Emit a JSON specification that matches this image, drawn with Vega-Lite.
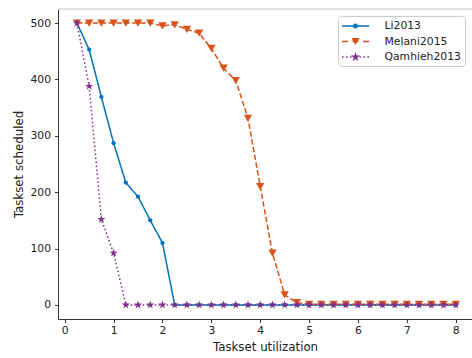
{
  "$schema": "https://vega.github.io/schema/vega-lite/v6.json",
  "width": 414,
  "height": 310,
  "autosize": "none",
  "padding": {"left": 58, "top": 9, "right": 0, "bottom": 39},
  "config": {
    "font": "DejaVu Sans",
    "view": {"stroke": null},
    "axis": {
      "grid": false,
      "tickSize": 3.5,
      "tickColor": "#333",
      "domainColor": "#333",
      "domainWidth": 1,
      "labelFontSize": 10.8,
      "labelColor": "#222",
      "titleFontSize": 11.8,
      "titleFontWeight": "normal",
      "titleColor": "#222",
      "labelFlush": false,
      "labelOverlap": false
    }
  },
  "layer": [
    {
      "data": {"values": [{}]},
      "mark": {"type": "rule", "color": "#c8c8c8", "strokeWidth": 1},
      "encoding": {"y": {"datum": 525}}
    },
    {
      "data": {"values": [
        {"u": 0.25, "Li2013": 500, "Melani2015": 500, "Qamhieh2013": 500},
        {"u": 0.5, "Li2013": 453, "Melani2015": 500, "Qamhieh2013": 388},
        {"u": 0.75, "Li2013": 369, "Melani2015": 500, "Qamhieh2013": 152},
        {"u": 1.0, "Li2013": 287, "Melani2015": 500, "Qamhieh2013": 92},
        {"u": 1.25, "Li2013": 217, "Melani2015": 500, "Qamhieh2013": 0},
        {"u": 1.5, "Li2013": 192, "Melani2015": 500, "Qamhieh2013": 0},
        {"u": 1.75, "Li2013": 150, "Melani2015": 500, "Qamhieh2013": 0},
        {"u": 2.0, "Li2013": 110, "Melani2015": 495, "Qamhieh2013": 0},
        {"u": 2.25, "Li2013": 0, "Melani2015": 497, "Qamhieh2013": 0},
        {"u": 2.5, "Li2013": 0, "Melani2015": 489, "Qamhieh2013": 0},
        {"u": 2.75, "Li2013": 0, "Melani2015": 482, "Qamhieh2013": 0},
        {"u": 3.0, "Li2013": 0, "Melani2015": 455, "Qamhieh2013": 0},
        {"u": 3.25, "Li2013": 0, "Melani2015": 420, "Qamhieh2013": 0},
        {"u": 3.5, "Li2013": 0, "Melani2015": 398, "Qamhieh2013": 0},
        {"u": 3.75, "Li2013": 0, "Melani2015": 331, "Qamhieh2013": 0},
        {"u": 4.0, "Li2013": 0, "Melani2015": 210, "Qamhieh2013": 0},
        {"u": 4.25, "Li2013": 0, "Melani2015": 92, "Qamhieh2013": 0},
        {"u": 4.5, "Li2013": 0, "Melani2015": 18, "Qamhieh2013": 0},
        {"u": 4.75, "Li2013": 0, "Melani2015": 4, "Qamhieh2013": 0},
        {"u": 5.0, "Li2013": 0, "Melani2015": 1, "Qamhieh2013": 0},
        {"u": 5.25, "Li2013": 0, "Melani2015": 1, "Qamhieh2013": 0},
        {"u": 5.5, "Li2013": 0, "Melani2015": 1, "Qamhieh2013": 0},
        {"u": 5.75, "Li2013": 0, "Melani2015": 1, "Qamhieh2013": 0},
        {"u": 6.0, "Li2013": 0, "Melani2015": 1, "Qamhieh2013": 0},
        {"u": 6.25, "Li2013": 0, "Melani2015": 1, "Qamhieh2013": 0},
        {"u": 6.5, "Li2013": 0, "Melani2015": 1, "Qamhieh2013": 0},
        {"u": 6.75, "Li2013": 0, "Melani2015": 1, "Qamhieh2013": 0},
        {"u": 7.0, "Li2013": 0, "Melani2015": 1, "Qamhieh2013": 0},
        {"u": 7.25, "Li2013": 0, "Melani2015": 1, "Qamhieh2013": 0},
        {"u": 7.5, "Li2013": 0, "Melani2015": 1, "Qamhieh2013": 0},
        {"u": 7.75, "Li2013": 0, "Melani2015": 1, "Qamhieh2013": 0},
        {"u": 8.0, "Li2013": 0, "Melani2015": 1, "Qamhieh2013": 0}
      ]},
      "transform": [{"fold": ["Li2013", "Melani2015", "Qamhieh2013"], "as": ["series", "value"]}],
      "encoding": {
        "x": {
          "field": "u", "type": "quantitative",
          "scale": {"domain": [-0.1375, 8.333], "nice": false, "zero": false},
          "axis": {"values": [0, 1, 2, 3, 4, 5, 6, 7, 8], "format": "d", "title": "Taskset utilization", "labelPadding": 2, "titlePadding": 6}
        },
        "y": {
          "field": "value", "type": "quantitative",
          "scale": {"domain": [-25, 525], "nice": false, "zero": false},
          "axis": {"values": [0, 100, 200, 300, 400, 500], "format": "d", "title": "Taskset scheduled", "labelPadding": 4, "titlePadding": 5}
        }
      },
      "layer": [
        {
          "mark": {"type": "line", "strokeWidth": 1.5},
          "encoding": {
            "strokeDash": {
              "field": "series", "type": "nominal",
              "scale": {"domain": ["Li2013", "Melani2015", "Qamhieh2013"], "range": [[1, 0], [5.5, 2.4], [1.5, 2.5]]},
              "legend": null
            },
            "color": {
              "field": "series", "type": "nominal",
              "scale": {"domain": ["Li2013", "Melani2015", "Qamhieh2013"], "range": ["#0072BD", "#D95319", "#7E2F8E"]},
              "legend": {
                "title": null,
                "orient": "top-right",
                "offset": 7,
                "padding": 4,
                "strokeColor": "#cccccc",
                "fillColor": "#ffffff",
                "cornerRadius": 3,
                "symbolSize": 144,
                "symbolOffset": 7.5,
                "symbolStrokeWidth": 0,
                "labelFontSize": 10.8,
                "labelColor": "#222",
                "labelOffset": 23,
                "rowPadding": 4.5,
                "encode": {
                  "symbols": {
                    "update": {
                      "shape": {"signal": "datum.value === 'Li2013' ? 'M-2.25,-0.125H2.25V0.125H-2.25ZM0.417,0L0.361,0.208L0.208,0.361L0,0.417L-0.208,0.361L-0.361,0.208L-0.417,0L-0.361,-0.208L-0.208,-0.361L0,-0.417L0.208,-0.361L0.361,-0.208Z' : datum.value === 'Melani2015' ? 'M-2.25,-0.125H-1.25V0.125H-2.25ZM-0.5,-0.125H0.5V0.125H-0.5ZM1.25,-0.125H2.25V0.125H1.25ZM-0.667,-0.577L0.667,-0.577L0,0.577Z' : 'M-2.25,-0.125H-2.0V0.125H-2.25ZM-1.575,-0.125H-1.325V0.125H-1.575ZM-0.9,-0.125H-0.65V0.125H-0.9ZM0.65,-0.125H0.9V0.125H0.65ZM1.325,-0.125H1.575V0.125H1.325ZM2.0,-0.125H2.25V0.125H2.0ZM0,-0.833L0.187,-0.257L0.792,-0.257L0.302,0.098L0.49,0.674L0,0.318L-0.49,0.674L-0.302,0.098L-0.792,-0.257L-0.187,-0.257Z'"},
                      "fill": {"signal": "datum.value === 'Li2013' ? '#0072BD' : datum.value === 'Melani2015' ? '#D95319' : '#7E2F8E'"},
                      "strokeWidth": {"value": 0},
                      "size": {"value": 144},
                      "opacity": {"value": 1}
                    }
                  }
                }
              }
            }
          }
        },
        {
          "transform": [{"filter": {"field": "series", "equal": "Li2013"}}],
          "mark": {"type": "point", "filled": true, "opacity": 1, "shape": "circle", "size": 18, "color": "#0072BD"},
          "encoding": {}
        },
        {
          "transform": [{"filter": {"field": "series", "equal": "Melani2015"}}],
          "mark": {"type": "point", "filled": true, "opacity": 1, "shape": "triangle-down", "size": 70, "color": "#D95319"},
          "encoding": {}
        },
        {
          "transform": [{"filter": {"field": "series", "equal": "Qamhieh2013"}}],
          "mark": {"type": "point", "filled": true, "opacity": 1, "shape": "M0,-1L0.225,-0.309L0.951,-0.309L0.363,0.118L0.588,0.809L0,0.382L-0.588,0.809L-0.363,0.118L-0.951,-0.309L-0.225,-0.309Z", "size": 75, "color": "#7E2F8E"},
          "encoding": {}
        }
      ]
    }
  ]
}
